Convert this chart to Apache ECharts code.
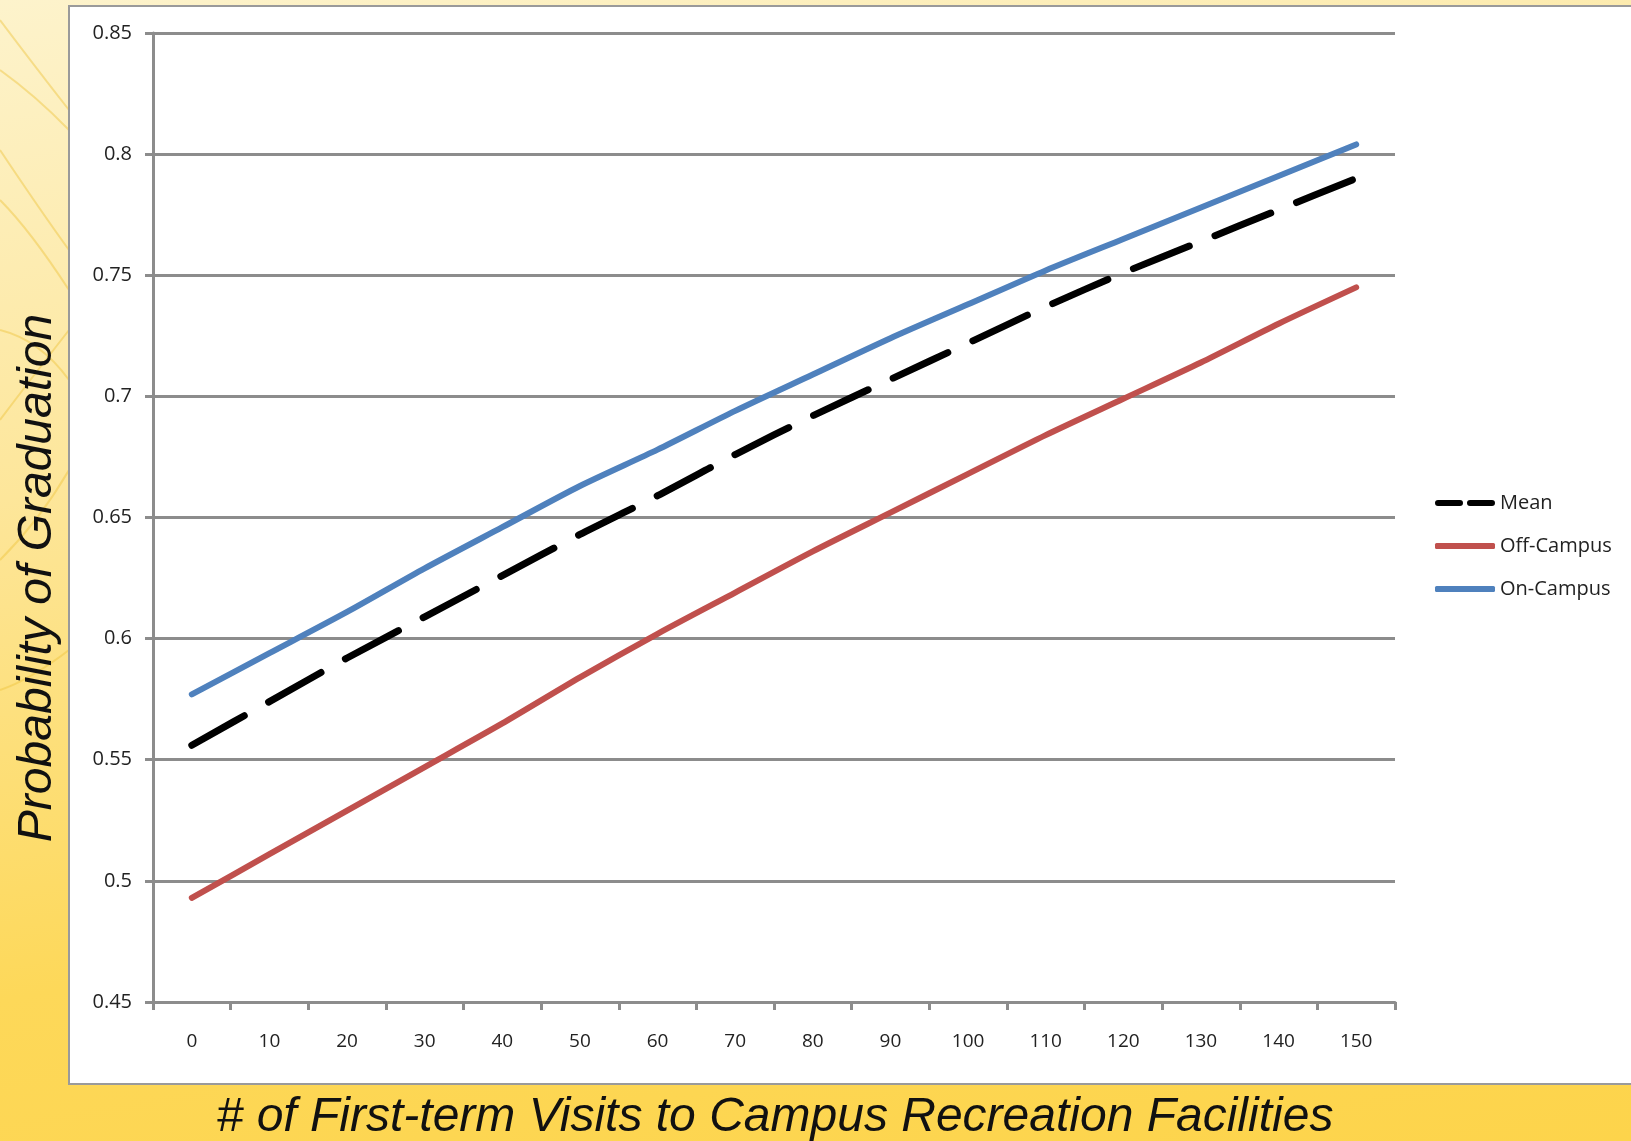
<!DOCTYPE html>
<html>
<head>
<meta charset="utf-8">
<title>Probability of Graduation</title>
<script src="https://cdn.jsdelivr.net/npm/echarts@6/dist/echarts.min.js"></script>
<style>
  html, body { margin: 0; padding: 0; }
  body {
    width: 1631px;
    height: 1141px;
    background: linear-gradient(170deg, #fdf3cc 0%, #fde69a 35%, #fdd859 70%, #fdd44b 100%);
  }
  #chart { width: 1631px; height: 1141px; }
</style>
</head>
<body>
<div id="chart"></div>
<script>
const visits = ['0', '10', '20', '30', '40', '50', '60', '70', '80', '90', '100', '110', '120', '130', '140', '150'];
const meanProb = [0.556, 0.574, 0.592, 0.609, 0.626, 0.643, 0.659, 0.676, 0.692, 0.707, 0.722, 0.737, 0.751, 0.764, 0.777, 0.790];
const offCampus = [0.493, 0.511, 0.529, 0.547, 0.565, 0.584, 0.602, 0.619, 0.636, 0.652, 0.668, 0.684, 0.699, 0.714, 0.730, 0.745];
const onCampus = [0.577, 0.594, 0.611, 0.629, 0.646, 0.663, 0.678, 0.694, 0.709, 0.724, 0.738, 0.752, 0.765, 0.778, 0.791, 0.804];

const chart = echarts.init(document.getElementById('chart'));

const axisGray = '#8c8c8c';
const labelFont = '"Open Sans", "Noto Sans", sans-serif';
const rayColor = 'rgba(238, 196, 60, 0.45)';

// faint decorative rays on the left margin of the slide
function ray(x1, y1, cx, cy, x2, y2) {
  return {
    type: 'bezierCurve',
    z: -20,
    silent: true,
    shape: { x1: x1, y1: y1, cpx1: cx, cpy1: cy, x2: x2, y2: y2 },
    style: { stroke: rayColor, lineWidth: 2, fill: null }
  };
}

const option = {
  backgroundColor: 'transparent',
  animation: false,
  graphic: [
    ray(0, 20, 30, 60, 69, 110),
    ray(0, 70, 35, 95, 69, 130),
    ray(0, 150, 40, 210, 69, 250),
    ray(0, 200, 30, 230, 69, 290),
    ray(0, 330, 40, 340, 69, 380),
    ray(0, 420, 30, 380, 69, 330),
    ray(0, 560, 40, 520, 69, 470),
    ray(0, 690, 30, 680, 69, 650),
    {
      type: 'rect',
      z: -10,
      shape: { x: 69, y: 6, width: 1580, height: 1078 },
      style: { fill: '#ffffff', stroke: '#9a9a9a', lineWidth: 2 }
    },
    {
      type: 'text',
      rotation: Math.PI / 2,
      x: 38,
      y: 578,
      style: {
        text: 'Probability of Graduation',
        font: 'italic 48px "Liberation Sans", Arial, sans-serif',
        fill: '#111',
        align: 'center',
        verticalAlign: 'middle'
      }
    },
    {
      type: 'text',
      x: 775,
      y: 1118,
      style: {
        text: '# of First-term Visits to Campus Recreation Facilities',
        font: 'italic 48px "Liberation Sans", Arial, sans-serif',
        fill: '#111',
        align: 'center',
        verticalAlign: 'middle'
      }
    }
  ],
  grid: {
    left: 153,
    right: 236,
    top: 33,
    bottom: 139
  },
  legend: {
    orient: 'vertical',
    left: 1435,
    top: 493,
    padding: 0,
    itemWidth: 60,
    itemHeight: 6,
    itemGap: 23,
    textStyle: { fontSize: 20, color: '#222', fontFamily: labelFont },
    data: [
      { name: 'Mean', icon: 'path://M3,0H25A3,3 0 0 1 25,6H3A3,3 0 0 1 3,0Z M35,0H57A3,3 0 0 1 57,6H35A3,3 0 0 1 35,0Z' },
      { name: 'Off-Campus', icon: 'roundRect' },
      { name: 'On-Campus', icon: 'roundRect' }
    ]
  },
  xAxis: {
    type: 'category',
    boundaryGap: true,
    data: visits,
    axisLine: { lineStyle: { color: axisGray, width: 3 } },
    axisTick: { show: true, inside: false, length: 8, interval: 0, lineStyle: { color: axisGray, width: 3 } },
    axisLabel: { color: '#222', fontSize: 19, fontFamily: labelFont, margin: 30, interval: 0 },
    splitLine: { show: false }
  },
  yAxis: {
    type: 'value',
    min: 0.45,
    max: 0.85,
    interval: 0.05,
    axisLine: { show: true, lineStyle: { color: axisGray, width: 3 } },
    axisTick: { show: true, length: 8, lineStyle: { color: axisGray, width: 3 } },
    axisLabel: { color: '#222', fontSize: 20, fontFamily: labelFont, margin: 21 },
    splitLine: { show: true, lineStyle: { color: axisGray, width: 3 } }
  },
  series: [
    {
      name: 'Mean',
      type: 'line',
      data: meanProb,
      smooth: 0.25,
      symbol: 'none',
      z: 3,
      itemStyle: { color: '#000000' },
      lineStyle: { color: '#000000', width: 7, type: [60, 28], cap: 'round', join: 'round' }
    },
    {
      name: 'Off-Campus',
      type: 'line',
      data: offCampus,
      smooth: 0.25,
      symbol: 'none',
      itemStyle: { color: '#c0504d' },
      lineStyle: { color: '#c0504d', width: 6, cap: 'round', join: 'round' }
    },
    {
      name: 'On-Campus',
      type: 'line',
      data: onCampus,
      smooth: 0.25,
      symbol: 'none',
      itemStyle: { color: '#4f81bd' },
      lineStyle: { color: '#4f81bd', width: 6, cap: 'round', join: 'round' }
    }
  ]
};

chart.setOption(option);
window.addEventListener('resize', () => chart.resize());
</script>
</body>
</html>
